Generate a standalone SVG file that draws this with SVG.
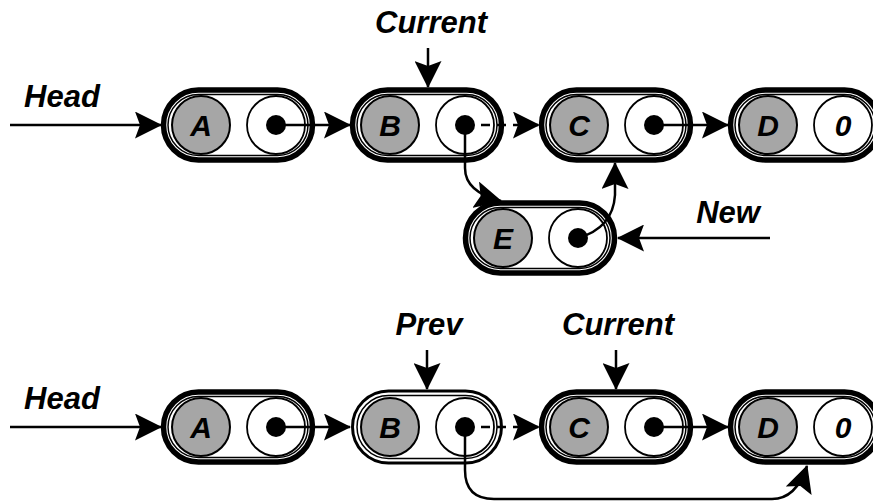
<svg xmlns="http://www.w3.org/2000/svg" width="873" height="501" viewBox="0 0 873 501">
<style>
  .pill{fill:#fff;stroke:#000;stroke-width:5.5}
  .pill-thin{fill:#fff;stroke:#000;stroke-width:3}
  .pill-in{fill:none;stroke:#000;stroke-width:1.5}
  .data{fill:#a6a6a6;stroke:#000;stroke-width:2}
  .ptr{fill:#fff;stroke:#000;stroke-width:1.8}
  .dot{fill:#000}
  .t{font-family:"Liberation Sans",Arial,sans-serif;font-weight:bold;font-style:italic;fill:#000;text-anchor:middle}
  .lbl{font-size:31px}
  .nl{font-size:30px}
  .c{fill:none;stroke:#000;stroke-width:2.5;marker-end:url(#ah)}
  .dash{stroke-dasharray:9 7}
</style>
<defs>
  <marker id="ah" markerUnits="userSpaceOnUse" markerWidth="27" markerHeight="27" viewBox="0 0 27 27" refX="26" refY="13.5" orient="auto">
    <path d="M0,0 L27,13.5 L0,27 L5,13.5 Z" fill="#000"/>
  </marker>
</defs>

<!-- top row -->
<g id="nodeA1">
  <rect class="pill" x="163.5" y="90" width="149" height="70" rx="35"/>
  <rect class="pill-in" x="168" y="94.5" width="140" height="61" rx="30.5"/>
  <circle class="data" cx="201" cy="125" r="29"/>
  <text class="t nl" x="201" y="136">A</text>
  <circle class="ptr" cx="276" cy="125" r="29"/>
  <circle class="dot" cx="276" cy="125" r="10"/>
</g>
<g id="nodeB1">
  <rect class="pill" x="352.5" y="90" width="149" height="70" rx="35"/>
  <rect class="pill-in" x="357" y="94.5" width="140" height="61" rx="30.5"/>
  <circle class="data" cx="390" cy="125" r="29"/>
  <text class="t nl" x="390" y="136">B</text>
  <circle class="ptr" cx="465" cy="125" r="29"/>
  <circle class="dot" cx="465" cy="125" r="10"/>
</g>
<g id="nodeC1">
  <rect class="pill" x="541.5" y="90" width="149" height="70" rx="35"/>
  <rect class="pill-in" x="546" y="94.5" width="140" height="61" rx="30.5"/>
  <circle class="data" cx="579" cy="125" r="29"/>
  <text class="t nl" x="579" y="136">C</text>
  <circle class="ptr" cx="654" cy="125" r="29"/>
  <circle class="dot" cx="654" cy="125" r="10"/>
</g>
<g id="nodeD1">
  <rect class="pill" x="730.5" y="90" width="149" height="70" rx="35"/>
  <rect class="pill-in" x="735" y="94.5" width="140" height="61" rx="30.5"/>
  <circle class="data" cx="768" cy="125" r="29"/>
  <text class="t nl" x="768" y="136">D</text>
  <circle class="ptr" cx="843" cy="125" r="29"/>
  <text class="t nl" x="843" y="136">0</text>
</g>
<g id="nodeE">
  <rect class="pill" x="465.5" y="203" width="149" height="70" rx="35"/>
  <rect class="pill-in" x="470" y="207.5" width="140" height="61" rx="30.5"/>
  <circle class="data" cx="503" cy="238" r="29"/>
  <text class="t nl" x="503" y="249">E</text>
  <circle class="ptr" cx="578" cy="238" r="29"/>
  <circle class="dot" cx="578" cy="238" r="10"/>
</g>

<!-- bottom row -->
<g id="nodeA2">
  <rect class="pill" x="163.5" y="392" width="149" height="70" rx="35"/>
  <rect class="pill-in" x="168" y="396.5" width="140" height="61" rx="30.5"/>
  <circle class="data" cx="201" cy="427" r="29"/>
  <text class="t nl" x="201" y="438">A</text>
  <circle class="ptr" cx="276" cy="427" r="29"/>
  <circle class="dot" cx="276" cy="427" r="10"/>
</g>
<g id="nodeB2">
  <rect class="pill-thin" x="352.5" y="391" width="149" height="72" rx="36"/>
  <rect class="pill-in" x="357" y="395.5" width="140" height="63" rx="31.5"/>
  <circle class="data" cx="390" cy="427" r="29"/>
  <text class="t nl" x="390" y="438">B</text>
  <circle class="ptr" cx="465" cy="427" r="29"/>
  <circle class="dot" cx="465" cy="427" r="10"/>
</g>
<g id="nodeC2">
  <rect class="pill" x="541.5" y="392" width="149" height="70" rx="35"/>
  <rect class="pill-in" x="546" y="396.5" width="140" height="61" rx="30.5"/>
  <circle class="data" cx="579" cy="427" r="29"/>
  <text class="t nl" x="579" y="438">C</text>
  <circle class="ptr" cx="654" cy="427" r="29"/>
  <circle class="dot" cx="654" cy="427" r="10"/>
</g>
<g id="nodeD2">
  <rect class="pill" x="730.5" y="392" width="149" height="70" rx="35"/>
  <rect class="pill-in" x="735" y="396.5" width="140" height="61" rx="30.5"/>
  <circle class="data" cx="768" cy="427" r="29"/>
  <text class="t nl" x="768" y="438">D</text>
  <circle class="ptr" cx="843" cy="427" r="29"/>
  <text class="t nl" x="843" y="438">0</text>
</g>

<!-- labels -->
<g id="labels">
  <text class="t lbl" x="62" y="107">Head</text>
  <text class="t lbl" x="431" y="33">Current</text>
  <text class="t lbl" x="728" y="223">New</text>
  <text class="t lbl" x="62" y="409">Head</text>
  <text class="t lbl" x="429" y="335">Prev</text>
  <text class="t lbl" x="618" y="335">Current</text>
</g>

<!-- connectors -->
<g id="connectors">
  <path class="c" d="M10,125 L161,125"/>
  <path class="c" d="M428,48 L428,87"/>
  <path class="c" d="M276,125 L350,125"/>
  <path class="c dash" d="M465,125 L539,125"/>
  <path class="c" d="M654,125 L728,125"/>
  <path class="c" d="M465,125 L465,168 Q465,192 501,201"/>
  <path class="c" d="M578,238 Q613,228 615,195 L615,163"/>
  <path class="c" d="M770,238 L618,238"/>

  <path class="c" d="M10,427 L161,427"/>
  <path class="c" d="M427,350 L427,389"/>
  <path class="c" d="M616,350 L616,389"/>
  <path class="c" d="M276,427 L350,427"/>
  <path class="c dash" d="M465,427 L539,427"/>
  <path class="c" d="M654,427 L728,427"/>
  <path class="c" d="M465,427 L465,470 Q465,499 494,499 L772,499 Q796,499 807,466"/>
</g>
</svg>
